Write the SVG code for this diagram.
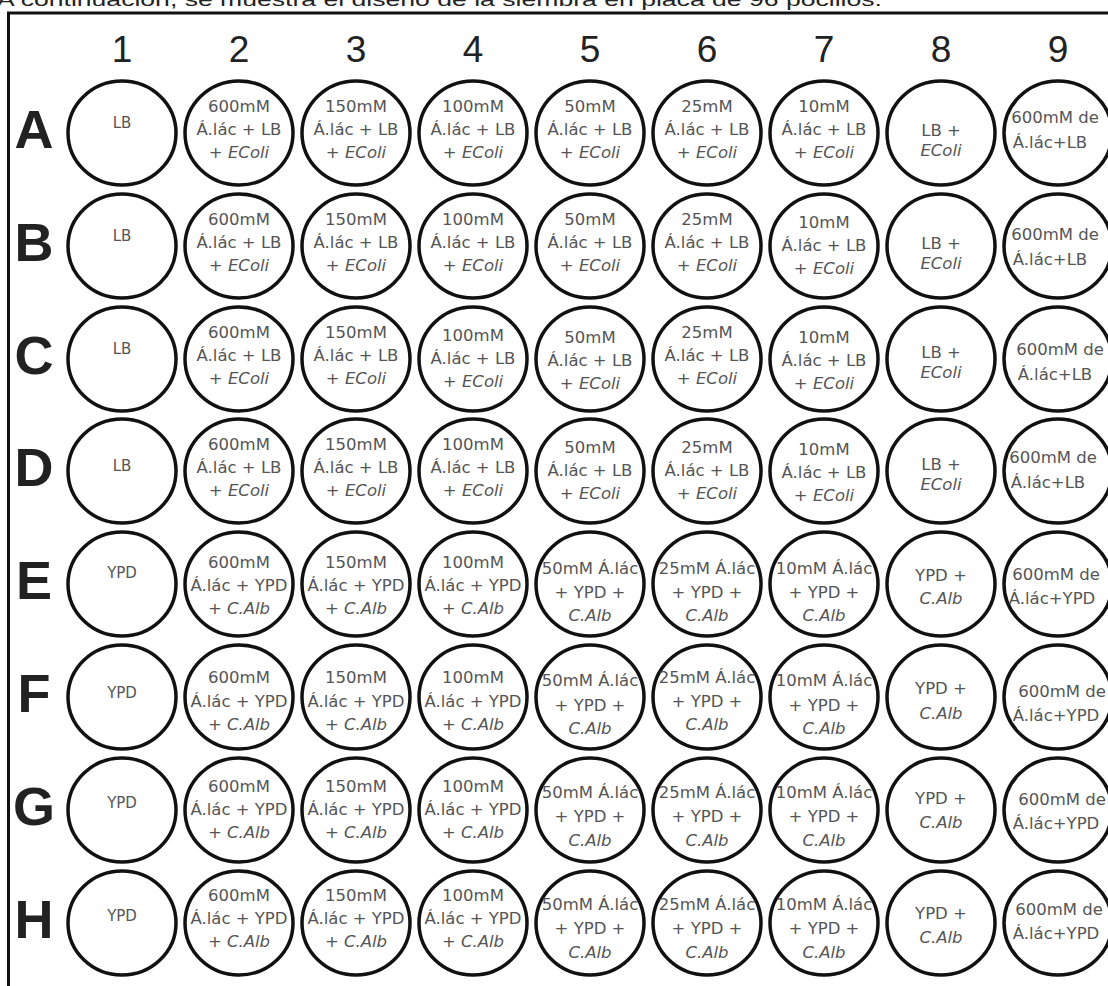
<svg xmlns="http://www.w3.org/2000/svg" width="1108" height="986" viewBox="0 0 1108 986">
<style>
.w{fill:#fff;stroke:#111;stroke-width:3.5}
.t{font-family:"DejaVu Sans",sans-serif;font-size:16.5px;fill:#555;text-anchor:middle}
.s{font-size:15px}
.i{font-style:italic}
.num{font-family:"Liberation Sans",Arial,sans-serif;font-size:37px;fill:#222;text-anchor:middle}
.let{font-family:"Liberation Sans",Arial,sans-serif;font-size:54px;font-weight:bold;fill:#222;text-anchor:middle}
.ttl{font-family:"Liberation Sans",Arial,sans-serif;font-size:19px;fill:#222}
</style>
<defs><ellipse id="well" class="w" cx="0" cy="0" rx="54" ry="52"/></defs>
<rect width="1108" height="986" fill="#fff"/>
<text class="ttl" x="-3" y="6" textLength="885" lengthAdjust="spacingAndGlyphs">A continuación, se muestra el diseño de la siembra en placa de 96 pocillos.</text>
<g id="frame"><path d="M8.5 986 V13 H1108" fill="none" stroke="#111" stroke-width="3"/></g>
<g id="headers">
<text class="num" x="122" y="62">1</text><text class="num" x="239" y="62">2</text><text class="num" x="356" y="62">3</text><text class="num" x="473" y="62">4</text><text class="num" x="590" y="62">5</text><text class="num" x="707" y="62">6</text><text class="num" x="824" y="62">7</text><text class="num" x="941" y="62">8</text><text class="num" x="1058" y="62">9</text>
<text class="let" x="34" y="148">A</text><text class="let" x="34" y="261">B</text><text class="let" x="34" y="374">C</text><text class="let" x="34" y="486">D</text><text class="let" x="34" y="599">E</text><text class="let" x="34" y="712">F</text><text class="let" x="34" y="825">G</text><text class="let" x="34" y="938">H</text>
</g>
<g id="connectors"/>
<g id="wells">
<!-- Row A -->
<g id="A1" transform="translate(122,133)"><use href="#well"/><text class="t s" y="-5">LB</text></g>
<g id="A2" transform="translate(239,133)"><use href="#well"/><text class="t" y="-21">600mM</text><text class="t" y="2">Á.lác + LB</text><text class="t" y="25">+ <tspan class="i">EColi</tspan></text></g>
<g id="A3" transform="translate(356,133)"><use href="#well"/><text class="t" y="-21">150mM</text><text class="t" y="2">Á.lác + LB</text><text class="t" y="25">+ <tspan class="i">EColi</tspan></text></g>
<g id="A4" transform="translate(473,133)"><use href="#well"/><text class="t" y="-21">100mM</text><text class="t" y="2">Á.lác + LB</text><text class="t" y="25">+ <tspan class="i">EColi</tspan></text></g>
<g id="A5" transform="translate(590,133)"><use href="#well"/><text class="t" y="-21">50mM</text><text class="t" y="2">Á.lác + LB</text><text class="t" y="25">+ <tspan class="i">EColi</tspan></text></g>
<g id="A6" transform="translate(707,133)"><use href="#well"/><text class="t" y="-21">25mM</text><text class="t" y="2">Á.lác + LB</text><text class="t" y="25">+ <tspan class="i">EColi</tspan></text></g>
<g id="A7" transform="translate(824,133)"><use href="#well"/><text class="t" y="-21">10mM</text><text class="t" y="2">Á.lác + LB</text><text class="t" y="25">+ <tspan class="i">EColi</tspan></text></g>
<g id="A8" transform="translate(941,133)"><use href="#well"/><text class="t" y="3">LB +</text><text class="t i" y="23">EColi</text></g>
<g id="A9" transform="translate(1058,133)"><use href="#well"/><text class="t" x="-3" y="-10">600mM de</text><text class="t" x="-8" y="15">Á.lác+LB</text></g>
<!-- Row B -->
<g id="B1" transform="translate(122,246)"><use href="#well"/><text class="t s" y="-5">LB</text></g>
<g id="B2" transform="translate(239,246)"><use href="#well"/><text class="t" y="-21">600mM</text><text class="t" y="2">Á.lác + LB</text><text class="t" y="25">+ <tspan class="i">EColi</tspan></text></g>
<g id="B3" transform="translate(356,246)"><use href="#well"/><text class="t" y="-21">150mM</text><text class="t" y="2">Á.lác + LB</text><text class="t" y="25">+ <tspan class="i">EColi</tspan></text></g>
<g id="B4" transform="translate(473,246)"><use href="#well"/><text class="t" y="-21">100mM</text><text class="t" y="2">Á.lác + LB</text><text class="t" y="25">+ <tspan class="i">EColi</tspan></text></g>
<g id="B5" transform="translate(590,246)"><use href="#well"/><text class="t" y="-21">50mM</text><text class="t" y="2">Á.lác + LB</text><text class="t" y="25">+ <tspan class="i">EColi</tspan></text></g>
<g id="B6" transform="translate(707,246)"><use href="#well"/><text class="t" y="-21">25mM</text><text class="t" y="2">Á.lác + LB</text><text class="t" y="25">+ <tspan class="i">EColi</tspan></text></g>
<g id="B7" transform="translate(824,246)"><use href="#well"/><text class="t" y="-18">10mM</text><text class="t" y="5">Á.lác + LB</text><text class="t" y="28">+ <tspan class="i">EColi</tspan></text></g>
<g id="B8" transform="translate(941,246)"><use href="#well"/><text class="t" y="3">LB +</text><text class="t i" y="23">EColi</text></g>
<g id="B9" transform="translate(1058,246)"><use href="#well"/><text class="t" x="-3" y="-6">600mM de</text><text class="t" x="-8" y="19">Á.lác+LB</text></g>
<!-- Row C -->
<g id="C1" transform="translate(122,359)"><use href="#well"/><text class="t s" y="-5">LB</text></g>
<g id="C2" transform="translate(239,359)"><use href="#well"/><text class="t" y="-21">600mM</text><text class="t" y="2">Á.lác + LB</text><text class="t" y="25">+ <tspan class="i">EColi</tspan></text></g>
<g id="C3" transform="translate(356,359)"><use href="#well"/><text class="t" y="-21">150mM</text><text class="t" y="2">Á.lác + LB</text><text class="t" y="25">+ <tspan class="i">EColi</tspan></text></g>
<g id="C4" transform="translate(473,359)"><use href="#well"/><text class="t" y="-18">100mM</text><text class="t" y="5">Á.lác + LB</text><text class="t" y="28">+ <tspan class="i">EColi</tspan></text></g>
<g id="C5" transform="translate(590,359)"><use href="#well"/><text class="t" y="-16">50mM</text><text class="t" y="7">Á.lác + LB</text><text class="t" y="30">+ <tspan class="i">EColi</tspan></text></g>
<g id="C6" transform="translate(707,359)"><use href="#well"/><text class="t" y="-21">25mM</text><text class="t" y="2">Á.lác + LB</text><text class="t" y="25">+ <tspan class="i">EColi</tspan></text></g>
<g id="C7" transform="translate(824,359)"><use href="#well"/><text class="t" y="-16">10mM</text><text class="t" y="7">Á.lác + LB</text><text class="t" y="30">+ <tspan class="i">EColi</tspan></text></g>
<g id="C8" transform="translate(941,359)"><use href="#well"/><text class="t" y="-1">LB +</text><text class="t i" y="19">EColi</text></g>
<g id="C9" transform="translate(1058,359)"><use href="#well"/><text class="t" x="2" y="-4">600mM de</text><text class="t" x="-3" y="21">Á.lác+LB</text></g>
<!-- Row D -->
<g id="D1" transform="translate(122,471)"><use href="#well"/><text class="t s" y="0">LB</text></g>
<g id="D2" transform="translate(239,471)"><use href="#well"/><text class="t" y="-21">600mM</text><text class="t" y="2">Á.lác + LB</text><text class="t" y="25">+ <tspan class="i">EColi</tspan></text></g>
<g id="D3" transform="translate(356,471)"><use href="#well"/><text class="t" y="-21">150mM</text><text class="t" y="2">Á.lác + LB</text><text class="t" y="25">+ <tspan class="i">EColi</tspan></text></g>
<g id="D4" transform="translate(473,471)"><use href="#well"/><text class="t" y="-21">100mM</text><text class="t" y="2">Á.lác + LB</text><text class="t" y="25">+ <tspan class="i">EColi</tspan></text></g>
<g id="D5" transform="translate(590,471)"><use href="#well"/><text class="t" y="-18">50mM</text><text class="t" y="5">Á.lác + LB</text><text class="t" y="28">+ <tspan class="i">EColi</tspan></text></g>
<g id="D6" transform="translate(707,471)"><use href="#well"/><text class="t" y="-18">25mM</text><text class="t" y="5">Á.lác + LB</text><text class="t" y="28">+ <tspan class="i">EColi</tspan></text></g>
<g id="D7" transform="translate(824,471)"><use href="#well"/><text class="t" y="-16">10mM</text><text class="t" y="7">Á.lác + LB</text><text class="t" y="30">+ <tspan class="i">EColi</tspan></text></g>
<g id="D8" transform="translate(941,471)"><use href="#well"/><text class="t" y="-1">LB +</text><text class="t i" y="19">EColi</text></g>
<g id="D9" transform="translate(1058,471)"><use href="#well"/><text class="t" x="-5" y="-8">600mM de</text><text class="t" x="-10" y="17">Á.lác+LB</text></g>
<!-- Row E -->
<g id="E1" transform="translate(122,584)"><use href="#well"/><text class="t s" y="-6">YPD</text></g>
<g id="E2" transform="translate(239,584)"><use href="#well"/><text class="t" y="-16">600mM</text><text class="t" y="7">Á.lác + YPD</text><text class="t" y="30">+ <tspan class="i">C.Alb</tspan></text></g>
<g id="E3" transform="translate(356,584)"><use href="#well"/><text class="t" y="-16">150mM</text><text class="t" y="7">Á.lác + YPD</text><text class="t" y="30">+ <tspan class="i">C.Alb</tspan></text></g>
<g id="E4" transform="translate(473,584)"><use href="#well"/><text class="t" y="-16">100mM</text><text class="t" y="7">Á.lác + YPD</text><text class="t" y="30">+ <tspan class="i">C.Alb</tspan></text></g>
<g id="E5" transform="translate(590,584)"><use href="#well"/><text class="t" y="-10">50mM Á.lác</text><text class="t" y="14">+ YPD +</text><text class="t i" y="37">C.Alb</text></g>
<g id="E6" transform="translate(707,584)"><use href="#well"/><text class="t" y="-10">25mM Á.lác</text><text class="t" y="14">+ YPD +</text><text class="t i" y="37">C.Alb</text></g>
<g id="E7" transform="translate(824,584)"><use href="#well"/><text class="t" y="-10">10mM Á.lác</text><text class="t" y="14">+ YPD +</text><text class="t i" y="37">C.Alb</text></g>
<g id="E8" transform="translate(941,584)"><use href="#well"/><text class="t" y="-3">YPD +</text><text class="t i" y="20">C.Alb</text></g>
<g id="E9" transform="translate(1058,584)"><use href="#well"/><text class="t" x="-2" y="-4">600mM de</text><text class="t" x="-6" y="20">Á.lác+YPD</text></g>
<!-- Row F -->
<g id="F1" transform="translate(122,697)"><use href="#well"/><text class="t s" y="1">YPD</text></g>
<g id="F2" transform="translate(239,697)"><use href="#well"/><text class="t" y="-14">600mM</text><text class="t" y="10">Á.lác + YPD</text><text class="t" y="33">+ <tspan class="i">C.Alb</tspan></text></g>
<g id="F3" transform="translate(356,697)"><use href="#well"/><text class="t" y="-14">150mM</text><text class="t" y="10">Á.lác + YPD</text><text class="t" y="33">+ <tspan class="i">C.Alb</tspan></text></g>
<g id="F4" transform="translate(473,697)"><use href="#well"/><text class="t" y="-14">100mM</text><text class="t" y="10">Á.lác + YPD</text><text class="t" y="33">+ <tspan class="i">C.Alb</tspan></text></g>
<g id="F5" transform="translate(590,697)"><use href="#well"/><text class="t" y="-11">50mM Á.lác</text><text class="t" y="14">+ YPD +</text><text class="t i" y="37">C.Alb</text></g>
<g id="F6" transform="translate(707,697)"><use href="#well"/><text class="t" y="-14">25mM Á.lác</text><text class="t" y="10">+ YPD +</text><text class="t i" y="33">C.Alb</text></g>
<g id="F7" transform="translate(824,697)"><use href="#well"/><text class="t" y="-11">10mM Á.lác</text><text class="t" y="14">+ YPD +</text><text class="t i" y="37">C.Alb</text></g>
<g id="F8" transform="translate(941,697)"><use href="#well"/><text class="t" y="-3">YPD +</text><text class="t i" y="22">C.Alb</text></g>
<g id="F9" transform="translate(1058,697)"><use href="#well"/><text class="t" x="4" y="0">600mM de</text><text class="t" x="-2" y="24">Á.lác+YPD</text></g>
<!-- Row G -->
<g id="G1" transform="translate(122,810)"><use href="#well"/><text class="t s" y="-2">YPD</text></g>
<g id="G2" transform="translate(239,810)"><use href="#well"/><text class="t" y="-18">600mM</text><text class="t" y="5">Á.lác + YPD</text><text class="t" y="28">+ <tspan class="i">C.Alb</tspan></text></g>
<g id="G3" transform="translate(356,810)"><use href="#well"/><text class="t" y="-18">150mM</text><text class="t" y="5">Á.lác + YPD</text><text class="t" y="28">+ <tspan class="i">C.Alb</tspan></text></g>
<g id="G4" transform="translate(473,810)"><use href="#well"/><text class="t" y="-18">100mM</text><text class="t" y="5">Á.lác + YPD</text><text class="t" y="28">+ <tspan class="i">C.Alb</tspan></text></g>
<g id="G5" transform="translate(590,810)"><use href="#well"/><text class="t" y="-12">50mM Á.lác</text><text class="t" y="12">+ YPD +</text><text class="t i" y="36">C.Alb</text></g>
<g id="G6" transform="translate(707,810)"><use href="#well"/><text class="t" y="-12">25mM Á.lác</text><text class="t" y="12">+ YPD +</text><text class="t i" y="36">C.Alb</text></g>
<g id="G7" transform="translate(824,810)"><use href="#well"/><text class="t" y="-12">10mM Á.lác</text><text class="t" y="12">+ YPD +</text><text class="t i" y="36">C.Alb</text></g>
<g id="G8" transform="translate(941,810)"><use href="#well"/><text class="t" y="-6">YPD +</text><text class="t i" y="18">C.Alb</text></g>
<g id="G9" transform="translate(1058,810)"><use href="#well"/><text class="t" x="4" y="-5">600mM de</text><text class="t" x="-2" y="19">Á.lác+YPD</text></g>
<!-- Row H -->
<g id="H1" transform="translate(122,923)"><use href="#well"/><text class="t s" y="-2">YPD</text></g>
<g id="H2" transform="translate(239,923)"><use href="#well"/><text class="t" y="-22">600mM</text><text class="t" y="1">Á.lác + YPD</text><text class="t" y="24">+ <tspan class="i">C.Alb</tspan></text></g>
<g id="H3" transform="translate(356,923)"><use href="#well"/><text class="t" y="-22">150mM</text><text class="t" y="1">Á.lác + YPD</text><text class="t" y="24">+ <tspan class="i">C.Alb</tspan></text></g>
<g id="H4" transform="translate(473,923)"><use href="#well"/><text class="t" y="-22">100mM</text><text class="t" y="1">Á.lác + YPD</text><text class="t" y="24">+ <tspan class="i">C.Alb</tspan></text></g>
<g id="H5" transform="translate(590,923)"><use href="#well"/><text class="t" y="-13">50mM Á.lác</text><text class="t" y="11">+ YPD +</text><text class="t i" y="35">C.Alb</text></g>
<g id="H6" transform="translate(707,923)"><use href="#well"/><text class="t" y="-13">25mM Á.lác</text><text class="t" y="11">+ YPD +</text><text class="t i" y="35">C.Alb</text></g>
<g id="H7" transform="translate(824,923)"><use href="#well"/><text class="t" y="-13">10mM Á.lác</text><text class="t" y="11">+ YPD +</text><text class="t i" y="35">C.Alb</text></g>
<g id="H8" transform="translate(941,923)"><use href="#well"/><text class="t" y="-4">YPD +</text><text class="t i" y="20">C.Alb</text></g>
<g id="H9" transform="translate(1058,923)"><use href="#well"/><text class="t" x="1" y="-8">600mM de</text><text class="t" x="-2" y="16">Á.lác+YPD</text></g>
</g>
</svg>
